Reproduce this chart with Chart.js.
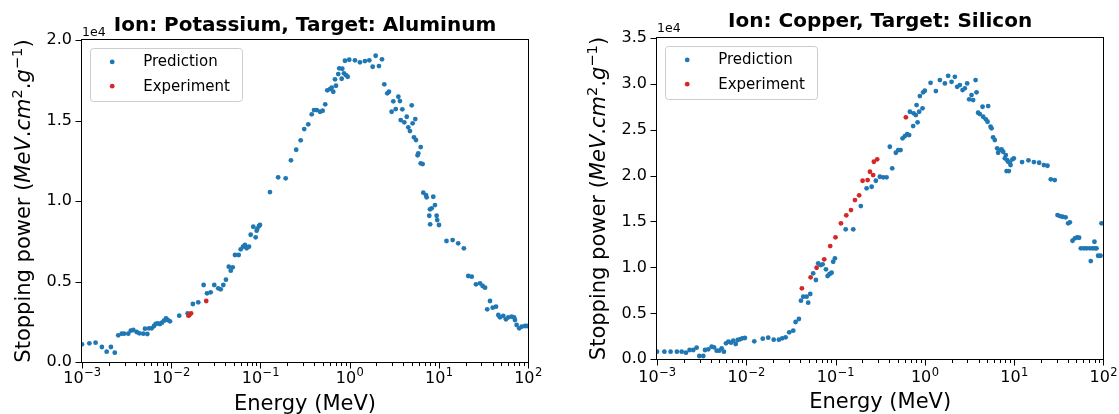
<!DOCTYPE html>
<html>
<head>
<meta charset="utf-8">
<script src="https://cdn.jsdelivr.net/npm/chart.js@4.4.1/dist/chart.umd.min.js"></script>
<style>
    html, body { margin: 0; padding: 0; background: #fff; }
    #wrap { position: relative; width: 1119px; height: 414px; }
    .painel { position: absolute; top: 0; height: 414px; }
    #painelEsq { left: 0; width: 559px; }
    #painelDir { left: 559px; width: 560px; }
</style>
</head>
<body>
<div id="wrap">
    <div class="painel" id="painelEsq"><canvas id="potassioChart"></canvas></div>
    <div class="painel" id="painelDir"><canvas id="cobreChart"></canvas></div>
</div>
<script>
// Eixo de energia: décadas e expoentes dos rótulos
const decadas = [-3, -2, -1, 0, 1, 2];
const expoentesEnergia = ['\u22123', '\u22122', '\u22121', '0', '1', '2'];
const menoresPorDecada = [2, 3, 4, 5, 6, 7, 8, 9];

// Potássio em alumínio - previsão
const potassioPredEnergia = [
    0.00100, 0.00121, 0.00142, 0.00167, 0.00189, 0.00211, 0.00233, 0.00255, 0.00279, 0.00296,
    0.00330, 0.00352, 0.00376, 0.00410, 0.00439, 0.00486, 0.00508, 0.00540, 0.00564, 0.00604,
    0.00641, 0.00670, 0.00706, 0.00748, 0.00788, 0.00830, 0.00874, 0.00914, 0.00969, 0.0123,
    0.0153, 0.0175, 0.0201, 0.0231, 0.0252, 0.0277, 0.0304, 0.0337, 0.0359, 0.0384,
    0.0411, 0.0442, 0.0465, 0.0489, 0.0519, 0.0571, 0.0601, 0.0638, 0.0671, 0.0702,
    0.0745, 0.0778, 0.0832, 0.0885, 0.0908, 0.0923, 0.0964, 0.0989, 0.128, 0.158,
    0.192, 0.220, 0.252, 0.283, 0.310, 0.344, 0.376, 0.399, 0.428, 0.466,
    0.499, 0.533, 0.562, 0.603, 0.630, 0.656, 0.703, 0.686, 0.746, 0.766,
    0.828, 0.815, 0.865, 0.910, 0.952, 0.887, 0.991, 1.148, 1.306, 1.486,
    1.663, 1.815, 1.959, 2.133, 2.307, 2.449, 2.643, 2.761, 3.09, 3.52,
    3.67, 3.29, 2.96, 3.90, 4.97, 3.74, 4.10, 4.37, 4.55, 4.75,
    5.09, 5.45, 5.27, 5.55, 6.27, 5.89, 5.79, 6.27, 6.59, 6.70,
    7.18, 7.31, 8.67, 8.32, 9.06, 7.96, 7.82, 9.46, 9.60, 8.00,
    10.05, 12.2, 14.3, 16.5, 19.1, 21.4, 23.4, 26.1, 29.0, 31.0,
    33.0, 37.5, 34.9, 40.2, 43.8, 46.5, 48.5, 52.8, 56.6, 60.1,
    65.6, 69.7, 71.4, 74.6, 79.8, 84.9, 92.5, 98.2
];
const potassioPredPoder = [
    1099, 1161, 1199, 932, 640, 932, 578, 1658, 1757, 1757,
    1757, 1944, 1987, 1863, 1782, 1757, 2068, 1739, 2093, 2093,
    2236, 2360, 2403, 2360, 2441, 2565, 2714, 2608, 2527, 2875,
    3024, 3602, 3707, 4782, 4266, 4328, 4782, 4577, 4515, 4782,
    5111, 5918, 5670, 5881, 6645, 6645, 6999, 7160, 7266, 7061,
    7160, 7905, 8402, 7744, 8154, 8278, 8446, 8508, 10557, 11470,
    11408, 12526, 13184, 13768, 14469, 14761, 15382, 15649, 15649, 15544,
    15606, 16003, 16873, 16953, 17034, 16786, 17158, 17556, 17885, 18239,
    18214, 17593, 17928, 17823, 17717, 18711, 18773, 18736, 18611, 18692,
    18736, 18338, 19021, 18382, 18798, 17245, 16686, 16786, 16189, 16475,
    16208, 15711, 15544, 15693, 15941, 15028, 14885, 15233, 14575, 14345,
    14823, 15090, 13954, 13786, 13352, 12960, 12836, 12339, 12296, 10514,
    10371, 10228, 10265, 9545, 9750, 9483, 9085, 9085, 8818, 8551,
    8508, 7514, 7576, 7371, 7061, 5341, 5297, 4825, 4887, 4720,
    4614, 3788, 3273, 3372, 3434, 2919, 2776, 2857, 2652, 2776,
    2813, 2776, 2608, 2298, 2093, 2192, 2236, 2236
];
// Potássio em alumínio - medidas
const potassioExpEnergia = [0.0156, 0.0160, 0.0167, 0.0247];
const potassioExpPoder = [2875, 2920, 3024, 3788];

// Cobre em silício - previsão
const cobrePredEnergia = [
    0.00100, 0.00121, 0.00142, 0.00167, 0.00189, 0.00211, 0.00232, 0.00255, 0.00278, 0.00298,
    0.00330, 0.00345, 0.00375, 0.00410, 0.00435, 0.00466, 0.00498, 0.00530, 0.00562, 0.00593,
    0.00629, 0.00674, 0.00715, 0.00761, 0.00801, 0.00850, 0.00902, 0.00966, 0.0123, 0.0153,
    0.0176, 0.0203, 0.0232, 0.0253, 0.0276, 0.0303, 0.0336, 0.0357, 0.0389, 0.0410,
    0.0435, 0.0474, 0.0494, 0.0521, 0.0562, 0.0603, 0.0640, 0.0681, 0.0717, 0.0781,
    0.0816, 0.0859, 0.0904, 0.0942, 0.0985, 0.130, 0.158, 0.192, 0.223, 0.254,
    0.283, 0.314, 0.342, 0.373, 0.432, 0.406, 0.474, 0.504, 0.536, 0.564,
    0.598, 0.635, 0.668, 0.741, 0.830, 0.681, 0.750, 0.794, 0.865, 0.944,
    0.809, 0.881, 0.959, 1.00, 1.161, 1.331, 1.476, 1.679, 1.828, 1.995,
    2.173, 2.305, 2.472, 2.649, 2.811, 2.985, 3.14, 3.34, 3.48, 3.80,
    3.71, 3.96, 4.44, 5.13, 4.14, 4.51, 4.83, 5.05, 5.46, 5.60,
    5.83, 6.09, 6.47, 6.64, 6.81, 7.24, 7.55, 7.89, 8.09, 8.37,
    8.59, 8.98, 9.14, 9.62, 9.95, 8.24, 8.75, 12.3, 14.5, 16.7,
    19.1, 21.6, 23.7, 25.8, 28.6, 30.7, 32.6, 34.9, 37.8, 40.4,
    42.2, 45.2, 48.0, 50.9, 53.6, 56.0, 60.5, 64.9, 70.6, 75.7,
    80.4, 83.9, 79.6, 72.4, 87.5, 93.1, 95.5
];
const cobrePredPoder = [
    827, 827, 827, 827, 827, 718, 1012, 1012, 1262, 359,
    359, 1012, 1088, 1371, 1306, 936, 936, 1197, 827, 1741,
    1915, 1806, 2024, 1665, 2100, 2176, 2285, 2317, 1958, 2241,
    2350, 2132, 2132, 2285, 2394, 2938, 3112, 4058, 4385, 6376,
    6811, 6811, 6158, 7105, 9357, 8628, 10445, 10260, 10336, 9792,
    9063, 9281, 9422, 10619, 10989, 14144, 14144, 16679, 18605, 18779,
    19432, 19867, 19802, 19802, 20781, 23131, 22478, 22772, 22772, 24045,
    24295, 24513, 24404, 25383, 25786, 26939, 26765, 26580, 26939, 27309,
    27668, 28647, 29050, 29224, 30094, 29191, 30388, 30029, 30856, 30203,
    30747, 29659, 29844, 29300, 29485, 30029, 28288, 28756, 28212, 29050,
    30388, 26830, 27483, 27559, 26689, 26395, 26112, 25851, 25307, 25133,
    24154, 23860, 22957, 22478, 22772, 22848, 22587, 21869, 22228, 21684,
    21499, 21390, 21140, 21760, 21869, 20487, 20487, 21466, 21651, 21466,
    21390, 21140, 21064, 19584, 19508, 15700, 15591, 15515, 15450, 14797,
    14906, 12904, 13165, 13274, 13230, 12077, 12077, 12077, 12077, 12077,
    12077, 12077, 12795, 10695, 11272, 11272, 14797
];
// Cobre em silício - medidas
const cobreExpEnergia = [
    0.0420, 0.0526, 0.0614, 0.0747, 0.0872, 0.100, 0.115, 0.132, 0.149, 0.165,
    0.184, 0.201, 0.229, 0.243, 0.264, 0.269, 0.293, 0.614
];
const cobreExpPoder = [
    7725, 8922, 9966, 10880, 12327, 13274, 14797, 15667, 16244, 17332,
    17843, 19432, 19508, 20411, 20052, 21499, 21760, 26330
];

// Título do eixo y em pedaços (texto normal, itálico e sobrescrito)
const tituloY = [
    { t: 'Stopping power (', it: false },
    { t: 'MeV', it: true },
    { t: '.', it: false },
    { t: 'cm', it: true },
    { t: '2', it: false, sup: true },
    { t: '.', it: false },
    { t: 'g', it: true },
    { t: '\u22121', it: false, sup: true },
    { t: ')', it: false }
];

const FONTE = '"DejaVu Sans", sans-serif';
const AZUL = '#1f77b4';
const VERMELHO = '#d62728';

Chart.defaults.font.family = FONTE;
Chart.defaults.color = '#000';

function pontos(energias, poderes) {
    return energias.map((e, i) => ({ x: e, y: poderes[i] }));
}

// Moldura, marcas dos eixos, rótulos 10^n, título do eixo y, legenda e "1e4"
const decoracaoEixos = {
    id: 'decoracaoEixos',
    afterDraw(chart, args, opts) {
        const ctx = chart.ctx;
        const { left, right, top, bottom } = chart.chartArea;
        const sx = chart.scales.x;
        const sy = chart.scales.y;
        ctx.save();
        ctx.strokeStyle = '#000';
        ctx.fillStyle = '#000';
        ctx.lineWidth = 1;

        const l = Math.round(left) - 0.5;
        const r = Math.round(right) + 0.5;
        const t = Math.round(top) - 0.5;
        const b = Math.round(bottom) + 0.5;
        ctx.strokeRect(l, t, r - l, b - t);

        // marcas do eixo y
        ctx.beginPath();
        sy.ticks.forEach(tk => {
            const py = Math.round(sy.getPixelForValue(tk.value)) + 0.5;
            ctx.moveTo(l - 6, py);
            ctx.lineTo(l, py);
        });
        // marcas maiores e menores do eixo x
        decadas.forEach(d => {
            const px = Math.round(sx.getPixelForValue(Math.pow(10, d))) + 0.5;
            ctx.moveTo(px, b);
            ctx.lineTo(px, b + 6);
            if (d < decadas[decadas.length - 1]) {
                menoresPorDecada.forEach(k => {
                    const pm = Math.round(sx.getPixelForValue(k * Math.pow(10, d))) + 0.5;
                    ctx.moveTo(pm, b);
                    ctx.lineTo(pm, b + 3.5);
                });
            }
        });
        ctx.stroke();

        // rótulos 10^n
        const baseY = bottom + opts.rotuloX;
        decadas.forEach((d, i) => {
            const px = sx.getPixelForValue(Math.pow(10, d));
            ctx.font = '16px ' + FONTE;
            const w1 = ctx.measureText('10').width;
            ctx.font = '11.5px ' + FONTE;
            const w2 = ctx.measureText(expoentesEnergia[i]).width;
            const x0 = px - (w1 + w2) / 2;
            ctx.textBaseline = 'alphabetic';
            ctx.textAlign = 'left';
            ctx.font = '16px ' + FONTE;
            ctx.fillText('10', x0, baseY);
            ctx.font = '11.5px ' + FONTE;
            ctx.fillText(expoentesEnergia[i], x0 + w1 + 0.5, baseY - 6.6);
        });

        // multiplicador do eixo y
        ctx.font = '12.5px ' + FONTE;
        ctx.fillText('1e4', left, top - opts.multiplicador);

        // título do eixo y, girado
        const tam = 21;
        const fonteDe = (p) => (p.it ? 'italic ' : '') + (p.sup ? tam * 0.7 : tam) + 'px ' + FONTE;
        let total = 0;
        tituloY.forEach(p => { ctx.font = fonteDe(p); total += ctx.measureText(p.t).width; });
        ctx.save();
        ctx.translate(left - 52, (top + bottom) / 2);
        ctx.rotate(-Math.PI / 2);
        let cx = -total / 2;
        tituloY.forEach(p => {
            ctx.font = fonteDe(p);
            ctx.fillText(p.t, cx, p.sup ? -8 : 0);
            cx += ctx.measureText(p.t).width;
        });
        ctx.restore();

        // legenda
        const bx = Math.round(left) + 8.5;
        const by = Math.round(top) + 8.5;
        ctx.beginPath();
        ctx.roundRect(bx, by, 152, 53, 3);
        ctx.fillStyle = 'rgba(255,255,255,0.8)';
        ctx.fill();
        ctx.strokeStyle = '#cccccc';
        ctx.stroke();
        ['Prediction', 'Experiment'].forEach((nome, i) => {
            const ds = chart.data.datasets.find(s => s.label === nome);
            const ly = by + 13.4 + i * 24.3;
            ctx.beginPath();
            ctx.arc(bx + 21.7, ly, 2.4, 0, Math.PI * 2);
            ctx.fillStyle = ds.backgroundColor;
            ctx.fill();
            ctx.fillStyle = '#000';
            ctx.font = '15px ' + FONTE;
            ctx.textBaseline = 'middle';
            ctx.fillText(nome, bx + 52.7, ly + 0.5);
        });
        ctx.restore();
    }
};

function criarGrafico(canvasId, cfg) {
    const canvas = document.getElementById(canvasId);
    return new Chart(canvas, {
        type: 'scatter',
        data: {
            datasets: [{
                label: 'Prediction',
                data: pontos(cfg.predEnergia, cfg.predPoder),
                backgroundColor: AZUL,
                borderWidth: 0,
                pointRadius: 2.4,
                order: 1
            }, {
                label: 'Experiment',
                data: pontos(cfg.expEnergia, cfg.expPoder),
                backgroundColor: VERMELHO,
                borderWidth: 0,
                pointRadius: 2.4,
                order: 0
            }]
        },
        options: {
            responsive: true,
            maintainAspectRatio: false,
            animation: false,
            layout: {
                padding: { left: 0, right: cfg.padDireita, top: 0, bottom: 0 }
            },
            plugins: {
                legend: { display: false },
                tooltip: { enabled: false },
                title: {
                    display: true,
                    text: cfg.titulo,
                    fullSize: false,
                    color: '#000',
                    font: { size: 20, weight: 'bold', lineHeight: 1.2 },
                    padding: { top: cfg.tituloTopo, bottom: cfg.tituloBase }
                },
                decoracaoEixos: {
                    rotuloX: cfg.rotuloX,
                    multiplicador: cfg.multiplicador
                }
            },
            scales: {
                x: {
                    type: 'logarithmic',
                    min: 1e-3,
                    max: 1e2,
                    grid: { display: false, drawTicks: false },
                    border: { display: false },
                    ticks: { display: false },
                    title: {
                        display: true,
                        text: 'Energy (MeV)',
                        color: '#000',
                        font: { size: 21, lineHeight: 0.9 },
                        padding: { top: 0, bottom: cfg.tituloX }
                    },
                    afterFit: (s) => { s.height = cfg.alturaX; }
                },
                y: {
                    min: 0,
                    max: cfg.yMax,
                    grid: { display: false, drawTicks: false },
                    border: { display: false },
                    ticks: {
                        stepSize: 5000,
                        padding: 10,
                        color: '#000',
                        font: { size: 16 },
                        callback: (v) => (v / 1e4).toFixed(1)
                    },
                    afterFit: (s) => { s.width = cfg.larguraY; }
                }
            }
        },
        plugins: [decoracaoEixos]
    });
}

criarGrafico('potassioChart', {
    titulo: 'Ion: Potassium, Target: Aluminum',
    predEnergia: potassioPredEnergia, predPoder: potassioPredPoder,
    expEnergia: potassioExpEnergia, expPoder: potassioExpPoder,
    yMax: 20000,
    larguraY: 82, padDireita: 31, alturaX: 52,
    tituloTopo: 13.5, tituloBase: 2.5, tituloX: 0,
    rotuloX: 21, multiplicador: 4.5
});

criarGrafico('cobreChart', {
    titulo: 'Ion: Copper, Target: Silicon',
    predEnergia: cobrePredEnergia, predPoder: cobrePredPoder,
    expEnergia: cobreExpEnergia, expPoder: cobreExpPoder,
    yMax: 35000,
    larguraY: 98, padDireita: 15.7, alturaX: 54.7,
    tituloTopo: 10.2, tituloBase: 3.5, tituloX: 2.5,
    rotuloX: 23, multiplicador: 5.4
});
</script>
</body>
</html>
